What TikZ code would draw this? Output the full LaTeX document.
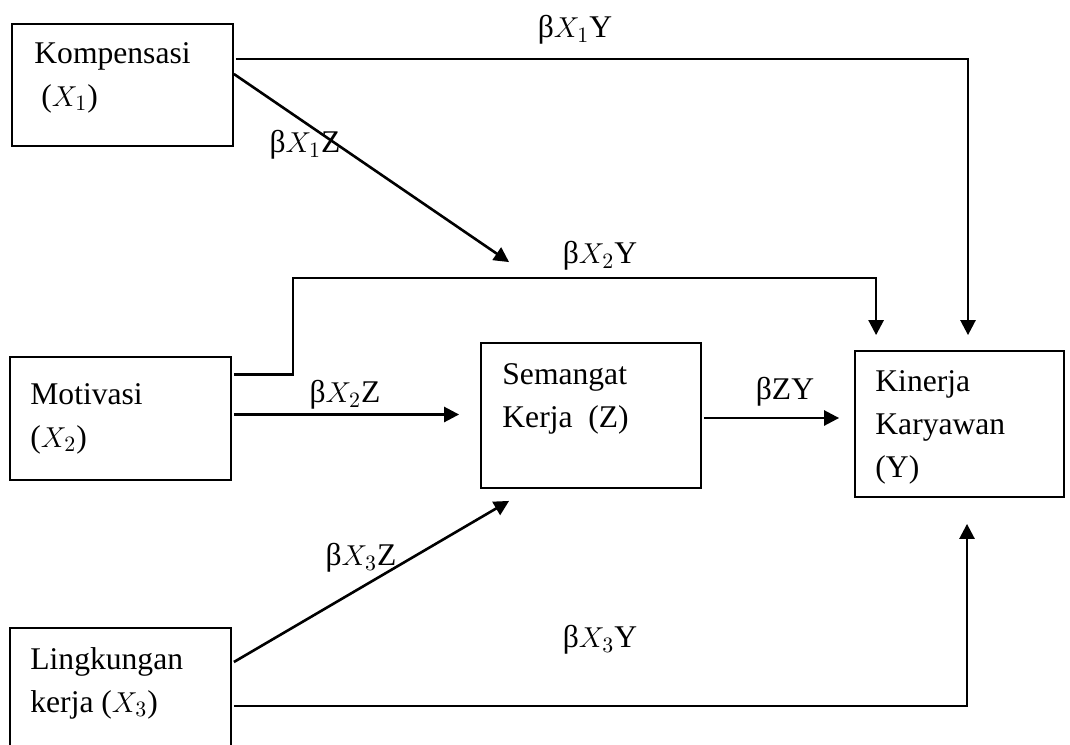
\documentclass[tikz,border=0pt]{standalone}
\usepackage{fontspec}
\setmainfont{Liberation Serif}
\usetikzlibrary{arrows.meta}

\begin{document}
\begin{tikzpicture}[x=0.5pt,y=-0.5pt,>={Triangle[length=7.5pt,width=7.5pt]},
		font=\fontsize{15.8}{21.5}\selectfont,
		box node/.style={rectangle,draw,line width=0.9pt,inner sep=0pt},
		text node/.style={anchor=north west,align=left,inner sep=0pt},
		path line/.style={->,line width=1.3pt}]
		\clip (0,0) rectangle (1070,744);
		\fill[white] (0,0) rectangle (1070,744);
		% boxes
		\node[box node,minimum width=110.5pt,minimum height=61pt] (komp) at (122.5,85) {};
		\node[box node,minimum width=110.5pt,minimum height=61.5pt] (moti) at (120.5,418.5) {};
		\node[box node,minimum width=110.5pt,minimum height=71pt] (ling) at (120.5,699) {};
		\node[box node,minimum width=110pt,minimum height=72.5pt] (sema) at (591,415.5) {};
		\node[box node,minimum width=104.5pt,minimum height=73pt] (kine) at (959.5,424) {};
		% box texts
		\node[text node] (tkomp) at (34,42) {Kompensasi\\\hspace*{3.5pt}($X_1$)};
		\node[text node] (tmoti) at (30,383) {Motivasi\\($X_2$)};
		\node[text node] (tling) at (30,647) {Lingkungan\\kerja ($X_3$)};
		\node[text node] (tsema) at (502,363) {Semangat\\Kerja~ (Z)};
		\node[text node] (tkine) at (875,370) {Kinerja\\Karyawan\\(Y)};
		% paths
		\draw[path line] ([xshift=1pt,yshift=13pt]komp.east) -| ([xshift=4.25pt,yshift=7.5pt]kine.north);
		\draw[path line] ([yshift=5.5pt]komp.east) -- ([xshift=14.5pt,yshift=40pt]sema.north west);
		\draw[path line] ([xshift=1pt,yshift=22pt]moti.east) -| (293,278) -| ([xshift=11pt,yshift=7.5pt]kine.north west);
		\draw[path line] ([xshift=1pt,yshift=2pt]moti.east) -- ([xshift=-10.5pt,yshift=0.5pt]sema.west);
		\draw[path line] ([xshift=1pt,yshift=-1.25pt]sema.east) -- ([xshift=-7.5pt,yshift=3pt]kine.west);
		\draw[path line] ([xshift=1pt,yshift=18.5pt]ling.east) -- ([xshift=14.5pt,yshift=-6pt]sema.south west);
		\draw[path line] ([xshift=1pt,yshift=-3.5pt]ling.east) -| ([xshift=3.75pt,yshift=-13pt]kine.south);
		% labels
		\node (lx1y) at (575,30) {β$X_1$Y};
		\node (lx1z) at (305,145) {β$X_1$Z};
		\node (lx2y) at (600,256) {β$X_2$Y};
		\node (lx2z) at (345,395) {β$X_2$Z};
		\node (lzy) at (785,392) {βZY};
		\node (lx3z) at (361,558) {β$X_3$Z};
		\node (lx3y) at (600,640) {β$X_3$Y};
\end{tikzpicture}
\end{document}
